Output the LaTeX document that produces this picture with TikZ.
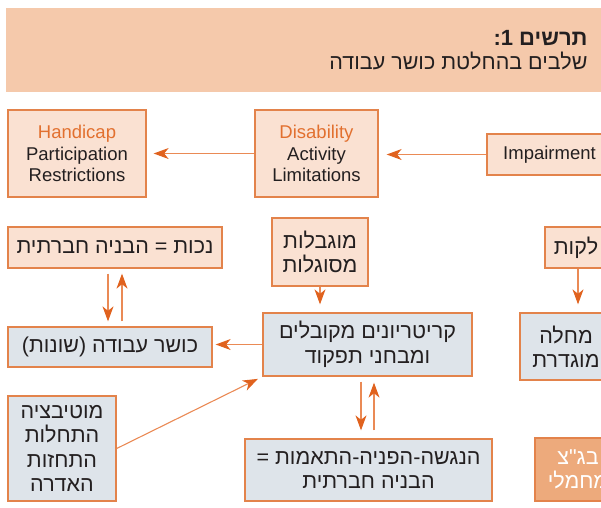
\documentclass[tikz,border=0pt]{standalone}
\usepackage{fontspec}
\setmainfont{Liberation Sans}
\newfontfamily\heb[Script=Hebrew]{Liberation Sans}
\TeXXeTstate=1
\usetikzlibrary{arrows.meta}
\definecolor{hdr}{HTML}{F5C9AB}
\definecolor{peach}{HTML}{FAE1D2}
\definecolor{bord}{HTML}{E3834B}
\definecolor{arrl}{HTML}{EA8A55}
\definecolor{arrh}{HTML}{E0621E}
\definecolor{greyb}{HTML}{DEE4EA}
\definecolor{darkb}{HTML}{EDAA7C}
\definecolor{otxt}{HTML}{E2702F}
\definecolor{ink}{HTML}{231F20}
\tikzset{
  box/.style={draw=bord, line width=1.3pt, inner sep=0pt, align=center, text=ink},
  pbox/.style={box, fill=peach},
  gbox/.style={box, fill=greyb},
  obox/.style={box, fill=darkb, text=white},
  en/.style={font=\fontsize{18.5}{21.5}\selectfont},
  he/.style={font=\heb\fontsize{21.5}{24.5}\selectfont},
  arrline/.style={draw=arrl, line width=1.1pt, -{Stealth[length=15pt,width=11pt,inset=4.5pt,color=arrh]}},
}
\begin{document}
\begin{tikzpicture}[x=1pt,y=-1pt]
\useasboundingbox (0,0) rectangle (601,507);
\clip (0,0) rectangle (601,507);
\fill[hdr] (6,8) rectangle (640,92);
\node[anchor=east, text=ink, font=\heb\bfseries\fontsize{22}{24}\selectfont] (title) at (591,38) {\beginR תרשים 1:\endR};
\node[anchor=east, text=ink, font=\heb\fontsize{21.5}{24}\selectfont] (subtitle) at (591,61) {\beginR שלבים בהחלטת כושר עבודה\endR};

% top row
\node[pbox, en, minimum width=138pt, minimum height=87pt] (handicap) at (77,153.5)
  {{\color{otxt}Handicap}\\Participation\\Restrictions};
\node[pbox, en, minimum width=123pt, minimum height=87pt] (disab) at (316.5,153.5)
  {{\color{otxt}Disability}\\Activity\\Limitations};
\node[pbox, en, minimum width=125pt, minimum height=41pt] (impair) at (549.5,154.5) {Impairment};

% second row
\node[pbox, he, minimum width=214pt, minimum height=41pt] (nakut) at (115,247.5)
  {\beginR נכות = הבניה חברתית\endR};
\node[pbox, he, minimum width=96pt, minimum height=68pt] (mugbal) at (320,252)
  {\beginR מוגבלות\endR\\\beginR מסוגלות\endR};
\node[pbox, he, minimum width=62pt, minimum height=41pt] (lakut) at (576,247.5)
  {\beginR לקות\endR};

% third row
\node[gbox, he, minimum width=204pt, minimum height=40pt] (kosher) at (110,347)
  {\beginR כושר עבודה (שונות)\endR};
\node[gbox, he, minimum width=209pt, minimum height=63pt] (krit) at (367.5,344.5)
  {\beginR קריטריונים מקובלים\endR\\\beginR ומבחני תפקוד\endR};
\node[gbox, he, minimum width=92pt, minimum height=67pt] (machala) at (566,346.5)
  {\beginR מחלה\endR\\\beginR מוגדרת\endR};

% bottom row
\node[gbox, he, minimum width=108pt, minimum height=105pt] (motiv) at (62,448.5)
  {\beginR מוטיבציה\endR\\\beginR התחלות\endR\\\beginR התחזות\endR\\\beginR האדרה\endR};
\node[gbox, he, minimum width=247pt, minimum height=62pt] (hang) at (368.5,470)
  {\beginR הנגשה-הפניה-התאמות =\endR\\\beginR הבניה חברתית\endR};
\node[obox, he, minimum width=86pt, minimum height=63pt] (bagatz) at (578,469.5)
  {\beginR בג"צ\endR\\\beginR מחמלי\endR};

% connectors
\draw[arrline, shorten >=7pt] (disab.west) -- (handicap.east);
\draw[arrline, shorten >=8pt] (impair.west) -- (disab.east |- impair.west);
\coordinate (xa) at (108,0);
\coordinate (xb) at (122,0);
\draw[arrline, shorten <=5pt, shorten >=5pt] (xa |- nakut.south) -- (xa |- kosher.north);
\draw[arrline, shorten <=5pt, shorten >=5pt] (xb |- kosher.north) -- (xb |- nakut.south);
\draw[arrline, shorten >=8pt] (mugbal.south) -- (mugbal.south |- krit.north);
\coordinate (xe) at (578,0);
\draw[arrline, shorten >=8pt] (xe |- lakut.south) -- (xe |- machala.north);
\draw[arrline, shorten >=3pt] (krit.west) -- (krit.west -| kosher.east);
\draw[arrline, shorten >=5pt] (motiv.east) -- (krit.south west);
\coordinate (xc) at (361,0);
\coordinate (xd) at (374,0);
\draw[arrline, shorten <=5pt, shorten >=8pt] (xc |- krit.south) -- (xc |- hang.north);
\draw[arrline, shorten <=8pt, shorten >=6pt] (xd |- hang.north) -- (xd |- krit.south);
\end{tikzpicture}
\end{document}
